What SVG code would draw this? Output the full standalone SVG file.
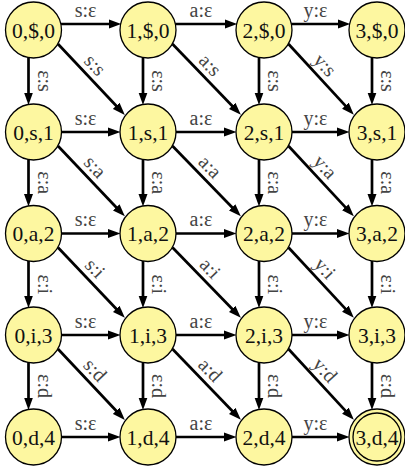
<svg xmlns="http://www.w3.org/2000/svg" width="405" height="467" viewBox="0 0 405 467" font-family="'Liberation Serif', 'DejaVu Serif', serif">
<defs>
<marker id="arr" markerUnits="userSpaceOnUse" markerWidth="13" markerHeight="10" refX="4" refY="5" orient="auto"><path d="M0,0.5 L12.5,5 L0,9.5 z" fill="#000"/></marker>
<style>
.node circle{fill:#fdf7a0;stroke:#000;stroke-width:1.3}
.node text{font-family:"Liberation Serif","DejaVu Serif",serif;font-size:21.5px;text-anchor:middle;fill:#111}
.edges line{stroke:#000;stroke-width:2.7;marker-end:url(#arr)}
.lbl{font-family:"Liberation Serif","DejaVu Serif",serif;font-size:20px;fill:#444;text-anchor:middle}
</style>
</defs>
<rect width="405" height="467" fill="#fff"/>
<g id="edges" class="edges">
<line x1="60.8" y1="24" x2="112.7" y2="24"/><line x1="175.3" y1="24" x2="228.7" y2="24"/><line x1="291.3" y1="24" x2="341.7" y2="24"/>
<line x1="61.5" y1="132" x2="112" y2="132"/><line x1="176" y1="132" x2="228" y2="132"/><line x1="292" y1="132" x2="341" y2="132"/>
<line x1="61.5" y1="233.5" x2="112" y2="233.5"/><line x1="176" y1="233.5" x2="228" y2="233.5"/><line x1="292" y1="233.5" x2="341" y2="233.5"/>
<line x1="61.5" y1="335" x2="112" y2="335"/><line x1="176" y1="335" x2="228" y2="335"/><line x1="292" y1="335" x2="341" y2="335"/>
<line x1="61.5" y1="437" x2="112" y2="437"/><line x1="176" y1="437" x2="228" y2="437"/><line x1="292" y1="437" x2="341" y2="437"/>
<line x1="28.5" y1="57.5" x2="28.5" y2="96.5"/><line x1="143" y1="57.5" x2="143" y2="96.5"/><line x1="259" y1="57.5" x2="259" y2="96.5"/><line x1="372" y1="57.5" x2="372" y2="96.5"/>
<line x1="28.5" y1="159.5" x2="28.5" y2="198"/><line x1="143" y1="159.5" x2="143" y2="198"/><line x1="259" y1="159.5" x2="259" y2="198"/><line x1="372" y1="159.5" x2="372" y2="198"/>
<line x1="28.5" y1="261" x2="28.5" y2="299.5"/><line x1="143" y1="261" x2="143" y2="299.5"/><line x1="259" y1="261" x2="259" y2="299.5"/><line x1="372" y1="261" x2="372" y2="299.5"/>
<line x1="28.5" y1="362.5" x2="28.5" y2="401.5"/><line x1="143" y1="362.5" x2="143" y2="401.5"/><line x1="259" y1="362.5" x2="259" y2="401.5"/><line x1="372" y1="362.5" x2="372" y2="401.5"/>
<line x1="58" y1="44" x2="119" y2="108.7"/><line x1="172.5" y1="44" x2="234.95" y2="108.74"/><line x1="288.5" y1="44" x2="348.08" y2="108.62"/>
<line x1="58" y1="146" x2="119" y2="210.2"/><line x1="172.5" y1="146" x2="234.93" y2="210.26"/><line x1="288.5" y1="146" x2="348.06" y2="210.14"/>
<line x1="58" y1="247.5" x2="119" y2="311.7"/><line x1="172.5" y1="247.5" x2="234.93" y2="311.76"/><line x1="288.5" y1="247.5" x2="348.06" y2="311.64"/>
<line x1="58" y1="349" x2="119" y2="413.7"/><line x1="172.5" y1="349" x2="234.95" y2="413.74"/><line x1="288.5" y1="349" x2="348.08" y2="413.62"/>
</g>
<g id="edge-labels">
<text class="lbl" x="85.5" y="16.5">s:ε</text><text class="lbl" x="201" y="16.5">a:ε</text><text class="lbl" x="315.5" y="16.5">y:ε</text>
<text class="lbl" x="85.5" y="124.5">s:ε</text><text class="lbl" x="201" y="124.5">a:ε</text><text class="lbl" x="315.5" y="124.5">y:ε</text>
<text class="lbl" x="85.5" y="226">s:ε</text><text class="lbl" x="201" y="226">a:ε</text><text class="lbl" x="315.5" y="226">y:ε</text>
<text class="lbl" x="85.5" y="327.5">s:ε</text><text class="lbl" x="201" y="327.5">a:ε</text><text class="lbl" x="315.5" y="327.5">y:ε</text>
<text class="lbl" x="85.5" y="429.5">s:ε</text><text class="lbl" x="201" y="429.5">a:ε</text><text class="lbl" x="315.5" y="429.5">y:ε</text>
<text class="lbl" x="37.5" y="81" transform="rotate(90 37.5 81)">ε:s</text><text class="lbl" x="152" y="81" transform="rotate(90 152 81)">ε:s</text><text class="lbl" x="268" y="81" transform="rotate(90 268 81)">ε:s</text><text class="lbl" x="381" y="81" transform="rotate(90 381 81)">ε:s</text>
<text class="lbl" x="37.5" y="182.75" transform="rotate(90 37.5 182.75)">ε:a</text><text class="lbl" x="152" y="182.75" transform="rotate(90 152 182.75)">ε:a</text><text class="lbl" x="268" y="182.75" transform="rotate(90 268 182.75)">ε:a</text><text class="lbl" x="381" y="182.75" transform="rotate(90 381 182.75)">ε:a</text>
<text class="lbl" x="37.5" y="284.25" transform="rotate(90 37.5 284.25)">ε:i</text><text class="lbl" x="152" y="284.25" transform="rotate(90 152 284.25)">ε:i</text><text class="lbl" x="268" y="284.25" transform="rotate(90 268 284.25)">ε:i</text><text class="lbl" x="381" y="284.25" transform="rotate(90 381 284.25)">ε:i</text>
<text class="lbl" x="37.5" y="386" transform="rotate(90 37.5 386)">ε:d</text><text class="lbl" x="152" y="386" transform="rotate(90 152 386)">ε:d</text><text class="lbl" x="268" y="386" transform="rotate(90 268 386)">ε:d</text><text class="lbl" x="381" y="386" transform="rotate(90 381 386)">ε:d</text>
<text class="lbl" x="90.3" y="69.5" transform="rotate(46.5 90.3 69.5)">s:s</text><text class="lbl" x="205.4" y="69.5" transform="rotate(46 205.4 69.5)">a:s</text><text class="lbl" x="320.2" y="69.5" transform="rotate(47.2 320.2 69.5)">y:s</text>
<text class="lbl" x="90.3" y="171.3" transform="rotate(46.5 90.3 171.3)">s:a</text><text class="lbl" x="205.4" y="171.3" transform="rotate(46 205.4 171.3)">a:a</text><text class="lbl" x="320.2" y="171.3" transform="rotate(47.2 320.2 171.3)">y:a</text>
<text class="lbl" x="90.3" y="272.8" transform="rotate(46.5 90.3 272.8)">s:i</text><text class="lbl" x="205.4" y="272.8" transform="rotate(46 205.4 272.8)">a:i</text><text class="lbl" x="320.2" y="272.8" transform="rotate(47.2 320.2 272.8)">y:i</text>
<text class="lbl" x="90.3" y="374.5" transform="rotate(46.5 90.3 374.5)">s:d</text><text class="lbl" x="205.4" y="374.5" transform="rotate(46 205.4 374.5)">a:d</text><text class="lbl" x="320.2" y="374.5" transform="rotate(47.2 320.2 374.5)">y:d</text>
</g>
<g id="n0_0" class="node"><circle cx="33.5" cy="30" r="28"/><text x="33.5" y="37.5">0,$,0</text></g>
<g id="n1_0" class="node"><circle cx="148" cy="30" r="28"/><text x="148" y="37.5">1,$,0</text></g>
<g id="n2_0" class="node"><circle cx="264" cy="30" r="28"/><text x="264" y="37.5">2,$,0</text></g>
<g id="n3_0" class="node"><circle cx="377" cy="30" r="28"/><text x="377" y="37.5">3,$,0</text></g>
<g id="n0_1" class="node"><circle cx="33.5" cy="132" r="28"/><text x="33.5" y="139.5">0,s,1</text></g>
<g id="n1_1" class="node"><circle cx="148" cy="132" r="28"/><text x="148" y="139.5">1,s,1</text></g>
<g id="n2_1" class="node"><circle cx="264" cy="132" r="28"/><text x="264" y="139.5">2,s,1</text></g>
<g id="n3_1" class="node"><circle cx="377" cy="132" r="28"/><text x="377" y="139.5">3,s,1</text></g>
<g id="n0_2" class="node"><circle cx="33.5" cy="233.5" r="28"/><text x="33.5" y="241">0,a,2</text></g>
<g id="n1_2" class="node"><circle cx="148" cy="233.5" r="28"/><text x="148" y="241">1,a,2</text></g>
<g id="n2_2" class="node"><circle cx="264" cy="233.5" r="28"/><text x="264" y="241">2,a,2</text></g>
<g id="n3_2" class="node"><circle cx="377" cy="233.5" r="28"/><text x="377" y="241">3,a,2</text></g>
<g id="n0_3" class="node"><circle cx="33.5" cy="335" r="28"/><text x="33.5" y="342.5">0,i,3</text></g>
<g id="n1_3" class="node"><circle cx="148" cy="335" r="28"/><text x="148" y="342.5">1,i,3</text></g>
<g id="n2_3" class="node"><circle cx="264" cy="335" r="28"/><text x="264" y="342.5">2,i,3</text></g>
<g id="n3_3" class="node"><circle cx="377" cy="335" r="28"/><text x="377" y="342.5">3,i,3</text></g>
<g id="n0_4" class="node"><circle cx="33.5" cy="437" r="28"/><text x="33.5" y="444.5">0,d,4</text></g>
<g id="n1_4" class="node"><circle cx="148" cy="437" r="28"/><text x="148" y="444.5">1,d,4</text></g>
<g id="n2_4" class="node"><circle cx="264" cy="437" r="28"/><text x="264" y="444.5">2,d,4</text></g>
<g id="n3_4" class="node"><circle cx="377" cy="437" r="28"/><circle cx="377" cy="437" r="24"/><text x="377" y="444.5">3,d,4</text></g>
</svg>
